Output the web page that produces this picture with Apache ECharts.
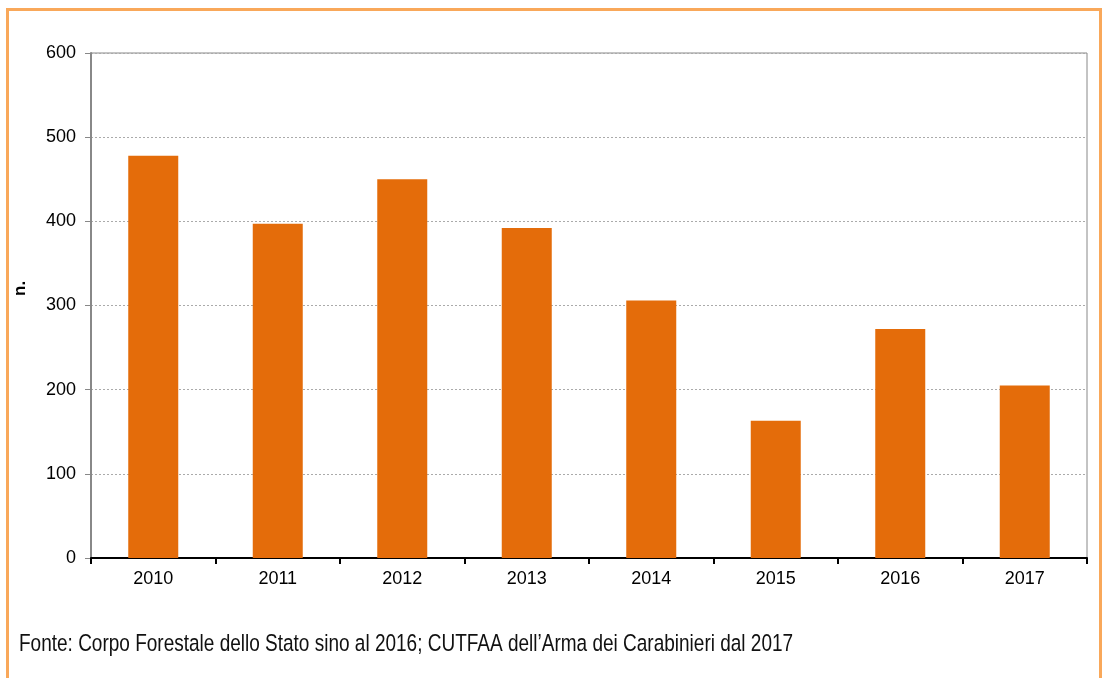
<!DOCTYPE html>
<html><head><meta charset="utf-8">
<script src="https://cdn.jsdelivr.net/npm/echarts@6/dist/echarts.min.js"></script>
<style>html,body{margin:0;padding:0;background:#fff;}#c{width:1105px;height:678px;}</style>
</head><body><div id="c"></div>
<script>
const categories = ['2010','2011','2012','2013','2014','2015','2016','2017'];
const values = [478, 397, 450, 392, 306, 163, 272, 205];
const yTicks = [0, 100, 200, 300, 400, 500, 600];
const yName = 'n.';
const sourceNote = 'Fonte: Corpo Forestale dello Stato sino al 2016; CUTFAA dell\u2019Arma dei Carabinieri dal 2017';

const chart = echarts.init(document.getElementById('c'), null, {renderer:'canvas'});
chart.setOption({
  animation: false,
  backgroundColor: '#fff',
  textStyle: {fontFamily: 'Liberation Sans, Arial, sans-serif'},
  graphic: [
    {type:'rect', left:5, top:7, shape:{x:0,y:0,width:1093,height:700}, style:{fill:'none', stroke:'#F9A85A', lineWidth:3}, z:-1},
    {type:'text', x:19, y:644, scaleY:1.25, style:{x:0, y:0, text: sourceNote, font:'19px "Liberation Sans", Arial, sans-serif', fill:'#111', verticalAlign:'middle'}},
    {type:'text', x:12, y:296, rotation:Math.PI/2, style:{x:0, y:0, text: yName, font:'bold 17px "Liberation Sans", Arial, sans-serif', fill:'#000', align:'left', verticalAlign:'top'}}
  ],
  grid: {left:91, top:53, right:18, bottom:120, show:true, borderColor:'#888', borderWidth:1},
  xAxis: {
    type:'category', data: categories,
    axisLine:{lineStyle:{color:'#000', width:2}},
    axisTick:{show:true, inside:false, length:6, lineStyle:{color:'#000', width:2}},
    axisLabel:{color:'#000', fontSize:18, margin:12}
  },
  yAxis: {
    type:'value', min:0, max:600, interval:100,
    axisLine:{show:true, lineStyle:{color:'#888', width:2}},
    axisTick:{show:true, length:6, lineStyle:{color:'#888'}},
    axisLabel:{color:'#000', fontSize:18, margin:15},
    splitLine:{lineStyle:{color:'#aaa', type:[2,2], width:1}}
  },
  series: [{
    type:'bar', data: values, barWidth:50,
    itemStyle:{color:'#E46C0A'}
  }]
});
</script></body></html>
